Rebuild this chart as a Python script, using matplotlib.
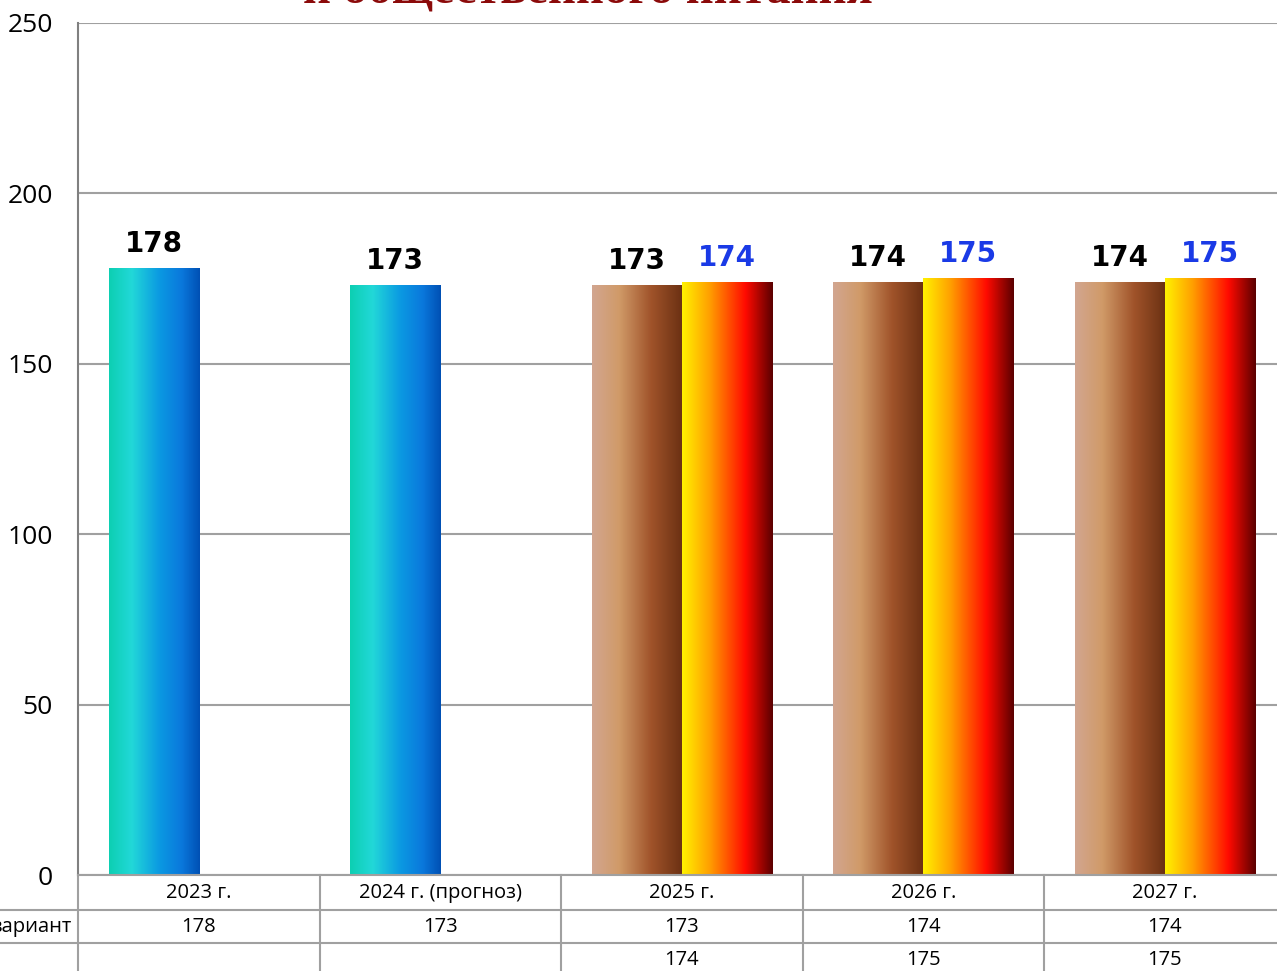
import numpy as np
import matplotlib
matplotlib.use('Agg')
import matplotlib.pyplot as plt
from matplotlib.colors import LinearSegmentedColormap
from matplotlib.transforms import blended_transform_factory

categories = ['2023 г.', '2024 г. (прогноз)', '2025 г.', '2026 г.', '2027 г.']
row_labels = ['вариант', '']
series1 = [178, 173, 173, 174, 174]
series2 = [None, None, 174, 175, 175]
yticks = [0, 50, 100, 150, 200, 250]
title = 'и общественного питания'

# gradient maps for the bars
teal = LinearSegmentedColormap.from_list('teal', [(0, '#0ccfb2'), (0.25, '#22d8d8'), (0.55, '#0b9ae2'), (0.8, '#0a78dc'), (1, '#0050b4')])
brown = LinearSegmentedColormap.from_list('brown', [(0, '#d2a690'), (0.3, '#d09a68'), (0.65, '#a0532a'), (1, '#6a3012')])
fire = LinearSegmentedColormap.from_list('fire', [(0, '#fff200'), (0.3, '#ffa000'), (0.7, '#ff0a00'), (1, '#5a0000')])

plt.rcParams['font.family'] = ['Open Sans', 'DejaVu Sans']

fig = plt.figure(figsize=(12.77, 9.71), dpi=100)
ax = fig.add_axes([78 / 1277, 96 / 971, 1207.5 / 1277, 852 / 971])

x = np.arange(len(categories))
w = 0.3727
grad = np.linspace(0, 1, 256).reshape(1, -1)


def gradient_bars(xs, vals, cmaps, color):
    bars = ax.bar(xs, vals, w, color='none', edgecolor='none', zorder=2)
    for b, cm, v in zip(bars, cmaps, vals):
        x0 = b.get_x()
        ax.imshow(grad, cmap=cm, extent=[x0, x0 + b.get_width(), 0, b.get_height()],
                  aspect='auto', zorder=2, interpolation='bilinear')
        ax.text(x0 + b.get_width() / 2, b.get_height() + 3, str(v), ha='center', va='bottom',
                fontsize=20, fontweight='bold', color=color, family='DejaVu Sans')


cm1 = [teal, teal, brown, brown, brown]
gradient_bars(x - w / 2, series1, cm1, 'black')
idx2 = [i for i, v in enumerate(series2) if v is not None]
gradient_bars(x[idx2] + w / 2, [series2[i] for i in idx2], [fire] * len(idx2), '#1a3ae6')

ax.set_xlim(-0.5, len(categories) - 0.5)
ax.set_ylim(0, 250)
ax.set_yticks(yticks)
ax.tick_params(axis='y', length=0, labelsize=19, pad=18)
ax.set_xticks([])
ax.grid(axis='y', color='#a0a0a0', linewidth=1.5, zorder=0)
ax.set_axisbelow(True)
for s in ['top', 'right']:
    ax.spines[s].set_visible(False)
ax.spines['left'].set_color('#808080')
ax.spines['left'].set_linewidth(1.5)
ax.spines['bottom'].set_color('#a0a0a0')
ax.spines['bottom'].set_linewidth(1.5)

# data table under the plot
tr = blended_transform_factory(ax.transData, ax.transAxes)
row_y = [-0.0211, -0.061, -0.0998]
line_y = [-0.0411, -0.0798]
for i, c in enumerate(categories):
    ax.text(x[i], row_y[0], c, transform=tr, ha='center', va='center', fontsize=14.5)
    ax.text(x[i], row_y[1], str(series1[i]), transform=tr, ha='center', va='center', fontsize=14.5)
    if series2[i] is not None:
        ax.text(x[i], row_y[2], str(series2[i]), transform=tr, ha='center', va='center', fontsize=14.5)
for xb in np.arange(-0.5, len(categories) + 0.5, 1.0):
    ax.plot([xb, xb], [0, -0.2], transform=tr, color='#a0a0a0', lw=1.5, clip_on=False)
for ly in line_y:
    ax.plot([-0.5 - 78 / 241.5, len(categories) - 0.5], [ly, ly], transform=tr,
            color='#a0a0a0', lw=1.5, clip_on=False)
for ry, lab in zip(row_y[1:], row_labels):
    ax.text(-0.5 - 6 / 241.5, ry, lab, transform=tr, ha='right', va='center', fontsize=14.5)

fig.text(588 / 1277, 1 - 4 / 971, title, ha='center', va='baseline', fontsize=35,
         fontweight='bold', color='#8b0a0a', family='Liberation Serif')

fig.savefig('out.png', dpi=100)
